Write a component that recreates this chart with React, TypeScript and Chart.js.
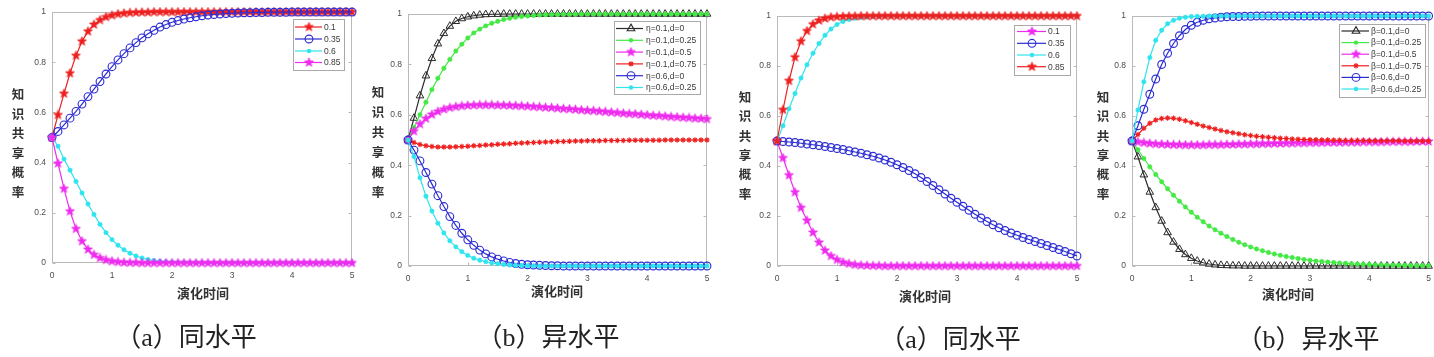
import React, { useEffect, useRef } from "react";
import { Chart, registerables } from "chart.js";

Chart.register(...registerables);

// ---------------- DATA ----------------
const times = [
  0, 0.1, 0.2, 0.3, 0.4, 0.5, 0.6, 0.7, 0.8, 0.9,
  1, 1.1, 1.2, 1.3, 1.4, 1.5, 1.6, 1.7, 1.8, 1.9,
  2, 2.1, 2.2, 2.3, 2.4, 2.5, 2.6, 2.7, 2.8, 2.9,
  3, 3.1, 3.2, 3.3, 3.4, 3.5, 3.6, 3.7, 3.8, 3.9,
  4, 4.1, 4.2, 4.3, 4.4, 4.5, 4.6, 4.7, 4.8, 4.9,
  5,
];

const xTickValues = [0, 1, 2, 3, 4, 5];
const xTickLabels = ["0", "1", "2", "3", "4", "5"];
const yTickValues = [0, 0.2, 0.4, 0.6, 0.8, 1];
const yTickLabels = ["0", "0.2", "0.4", "0.6", "0.8", "1"];

const yAxisTitle = "知识共享概率";
const xAxisTitle = "演化时间";
const captions = ["（a）同水平", "（b）异水平", "（a）同水平", "（b）异水平"];

const legendA1 = ["0.1", "0.35", "0.6", "0.85"];
const legendB1 = ["η=0.1,d=0", "η=0.1,d=0.25", "η=0.1,d=0.5", "η=0.1,d=0.75", "η=0.6,d=0", "η=0.6,d=0.25"];
const legendA2 = ["0.1", "0.35", "0.6", "0.85"];
const legendB2 = ["β=0.1,d=0", "β=0.1,d=0.25", "β=0.1,d=0.5", "β=0.1,d=0.75", "β=0.6,d=0", "β=0.6,d=0.25"];

// Panel 1 (a) same level
const a1_01 = [
  0.5, 0.59, 0.675, 0.756, 0.826, 0.883, 0.923, 0.95, 0.968, 0.98,
  0.987, 0.992, 0.995, 0.997, 0.998, 0.999, 0.999, 1, 1, 1,
  1, 1, 1, 1, 1, 1, 1, 1, 1, 1,
  1, 1, 1, 1, 1, 1, 1, 1, 1, 1,
  1, 1, 1, 1, 1, 1, 1, 1, 1, 1,
  1,
];
const a1_035 = [
  0.5, 0.524, 0.55, 0.577, 0.604, 0.633, 0.663, 0.693, 0.723, 0.753,
  0.782, 0.809, 0.834, 0.857, 0.878, 0.897, 0.913, 0.927, 0.94, 0.95,
  0.959, 0.966, 0.972, 0.977, 0.981, 0.985, 0.988, 0.99, 0.992, 0.994,
  0.995, 0.996, 0.997, 0.997, 0.998, 0.998, 0.999, 0.999, 0.999, 0.999,
  1, 1, 1, 1, 1, 1, 1, 1, 1, 1,
  1,
];
const a1_06 = [
  0.5, 0.465, 0.414, 0.37, 0.325, 0.279, 0.235, 0.193, 0.154, 0.121,
  0.093, 0.071, 0.053, 0.039, 0.028, 0.02, 0.014, 0.01, 0.007, 0.005,
  0.003, 0.002, 0.002, 0.001, 0.001, 0.001, 0, 0, 0, 0,
  0, 0, 0, 0, 0, 0, 0, 0, 0, 0,
  0, 0, 0, 0, 0, 0, 0, 0, 0, 0,
  0,
];
const a1_085 = [
  0.5, 0.397, 0.296, 0.206, 0.136, 0.087, 0.054, 0.033, 0.02, 0.012,
  0.007, 0.004, 0.002, 0.001, 0.001, 0, 0, 0, 0, 0,
  0, 0, 0, 0, 0, 0, 0, 0, 0, 0,
  0, 0, 0, 0, 0, 0, 0, 0, 0, 0,
  0, 0, 0, 0, 0, 0, 0, 0, 0, 0,
  0,
];

// Panel 2 (b) different level, eta
const b1_k = [
  0.5, 0.587, 0.676, 0.755, 0.824, 0.882, 0.923, 0.952, 0.971, 0.982,
  0.989, 0.993, 0.996, 0.998, 0.999, 0.999, 1, 1, 1, 1,
  1, 1, 1, 1, 1, 1, 1, 1, 1, 1,
  1, 1, 1, 1, 1, 1, 1, 1, 1, 1,
  1, 1, 1, 1, 1, 1, 1, 1, 1, 1,
  1,
];
const b1_g = [
  0.5, 0.55, 0.6, 0.65, 0.7, 0.745, 0.785, 0.82, 0.853, 0.88,
  0.905, 0.925, 0.94, 0.953, 0.963, 0.971, 0.978, 0.983, 0.987, 0.99,
  0.992, 0.994, 0.996, 0.997, 0.998, 0.998, 0.999, 0.999, 0.999, 1,
  1, 1, 1, 1, 1, 1, 1, 1, 1, 1,
  1, 1, 1, 1, 1, 1, 1, 1, 1, 1,
  1,
];
const b1_m = [
  0.5, 0.535, 0.563, 0.585, 0.601, 0.613, 0.622, 0.628, 0.632, 0.635,
  0.637, 0.638, 0.639, 0.639, 0.639, 0.638, 0.638, 0.637, 0.636, 0.635,
  0.634, 0.632, 0.631, 0.629, 0.628, 0.626, 0.624, 0.623, 0.621, 0.619,
  0.617, 0.616, 0.614, 0.612, 0.61, 0.608, 0.606, 0.604, 0.603, 0.601,
  0.599, 0.597, 0.596, 0.594, 0.592, 0.591, 0.589, 0.588, 0.586, 0.585,
  0.583,
];
const b1_r = [
  0.5, 0.49, 0.482, 0.477, 0.474, 0.472, 0.472, 0.472, 0.473, 0.474,
  0.475, 0.477, 0.478, 0.48, 0.481, 0.483, 0.484, 0.485, 0.487, 0.488,
  0.489, 0.49, 0.491, 0.492, 0.493, 0.494, 0.494, 0.495, 0.496, 0.496,
  0.497, 0.497, 0.497, 0.498, 0.498, 0.498, 0.498, 0.499, 0.499, 0.499,
  0.499, 0.499, 0.499, 0.5, 0.5, 0.5, 0.5, 0.5, 0.5, 0.5,
  0.5,
];
const b1_b = [
  0.5, 0.46, 0.417, 0.371, 0.325, 0.279, 0.236, 0.196, 0.161, 0.13,
  0.104, 0.082, 0.063, 0.048, 0.036, 0.027, 0.02, 0.014, 0.01, 0.007,
  0.005, 0.004, 0.003, 0.002, 0.001, 0.001, 0, 0, 0, 0,
  0, 0, 0, 0, 0, 0, 0, 0, 0, 0,
  0, 0, 0, 0, 0, 0, 0, 0, 0, 0,
  0,
];
const b1_c = [
  0.5, 0.434, 0.35, 0.277, 0.218, 0.17, 0.131, 0.1, 0.076, 0.057,
  0.042, 0.031, 0.023, 0.017, 0.012, 0.009, 0.006, 0.004, 0.003, 0.002,
  0.001, 0.001, 0, 0, 0, 0, 0, 0, 0, 0,
  0, 0, 0, 0, 0, 0, 0, 0, 0, 0,
  0, 0, 0, 0, 0, 0, 0, 0, 0, 0,
  0,
];

// Panel 3 (a) same level
const a2_01 = [
  0.5, 0.432, 0.363, 0.295, 0.233, 0.182, 0.134, 0.094, 0.062, 0.04,
  0.025, 0.015, 0.009, 0.005, 0.003, 0.002, 0.001, 0.001, 0, 0,
  0, 0, 0, 0, 0, 0, 0, 0, 0, 0,
  0, 0, 0, 0, 0, 0, 0, 0, 0, 0,
  0, 0, 0, 0, 0, 0, 0, 0, 0, 0,
  0,
];
const a2_035 = [
  0.5, 0.498, 0.496, 0.494, 0.491, 0.488, 0.485, 0.482, 0.478, 0.474,
  0.47, 0.466, 0.461, 0.456, 0.451, 0.445, 0.439, 0.432, 0.424, 0.415,
  0.405, 0.394, 0.382, 0.369, 0.354, 0.338, 0.322, 0.305, 0.288, 0.271,
  0.255, 0.239, 0.223, 0.207, 0.192, 0.178, 0.165, 0.153, 0.142, 0.132,
  0.123, 0.114, 0.106, 0.098, 0.09, 0.082, 0.074, 0.066, 0.058, 0.049,
  0.04,
];
const a2_06 = [
  0.5, 0.561, 0.629, 0.69, 0.752, 0.805, 0.851, 0.89, 0.923, 0.948,
  0.966, 0.978, 0.986, 0.991, 0.994, 0.996, 0.998, 0.998, 0.999, 0.999,
  1, 1, 1, 1, 1, 1, 1, 1, 1, 1,
  1, 1, 1, 1, 1, 1, 1, 1, 1, 1,
  1, 1, 1, 1, 1, 1, 1, 1, 1, 1,
  1,
];
const a2_085 = [
  0.5, 0.625, 0.741, 0.835, 0.899, 0.94, 0.967, 0.982, 0.99, 0.995,
  0.997, 0.998, 0.999, 0.999, 1, 1, 1, 1, 1, 1,
  1, 1, 1, 1, 1, 1, 1, 1, 1, 1,
  1, 1, 1, 1, 1, 1, 1, 1, 1, 1,
  1, 1, 1, 1, 1, 1, 1, 1, 1, 1,
  1,
];

// Panel 4 (b) different level, beta
const b2_k = [
  0.5, 0.437, 0.365, 0.296, 0.234, 0.18, 0.134, 0.096, 0.067, 0.046,
  0.031, 0.02, 0.013, 0.008, 0.005, 0.003, 0.002, 0.001, 0.001, 0,
  0, 0, 0, 0, 0, 0, 0, 0, 0, 0,
  0, 0, 0, 0, 0, 0, 0, 0, 0, 0,
  0, 0, 0, 0, 0, 0, 0, 0, 0, 0,
  0,
];
const b2_g = [
  0.5, 0.465, 0.43, 0.397, 0.366, 0.337, 0.309, 0.283, 0.259, 0.236,
  0.215, 0.195, 0.177, 0.16, 0.145, 0.131, 0.118, 0.106, 0.095, 0.085,
  0.076, 0.068, 0.061, 0.054, 0.048, 0.043, 0.038, 0.034, 0.03, 0.026,
  0.023, 0.02, 0.018, 0.016, 0.014, 0.012, 0.011, 0.009, 0.008, 0.007,
  0.006, 0.005, 0.005, 0.004, 0.004, 0.003, 0.003, 0.002, 0.002, 0.002,
  0.002,
];
const b2_m = [
  0.5, 0.496, 0.493, 0.49, 0.488, 0.487, 0.486, 0.485, 0.485, 0.484,
  0.484, 0.484, 0.484, 0.485, 0.485, 0.485, 0.486, 0.486, 0.487, 0.487,
  0.488, 0.488, 0.489, 0.489, 0.49, 0.49, 0.491, 0.491, 0.492, 0.492,
  0.493, 0.493, 0.493, 0.494, 0.494, 0.494, 0.495, 0.495, 0.495, 0.496,
  0.496, 0.496, 0.496, 0.497, 0.497, 0.497, 0.497, 0.497, 0.498, 0.498,
  0.498,
];
const b2_r = [
  0.5, 0.526, 0.551, 0.571, 0.584, 0.59, 0.592, 0.591, 0.587, 0.581,
  0.574, 0.567, 0.56, 0.554, 0.548, 0.542, 0.537, 0.533, 0.529, 0.525,
  0.522, 0.519, 0.517, 0.515, 0.513, 0.511, 0.51, 0.508, 0.507, 0.506,
  0.505, 0.505, 0.504, 0.504, 0.503, 0.503, 0.502, 0.502, 0.502, 0.502,
  0.501, 0.501, 0.501, 0.501, 0.501, 0.501, 0.5, 0.5, 0.5, 0.5,
  0.5,
];
const b2_b = [
  0.5, 0.561, 0.627, 0.687, 0.748, 0.806, 0.851, 0.89, 0.921, 0.946,
  0.963, 0.975, 0.983, 0.989, 0.992, 0.995, 0.997, 0.998, 0.998, 0.999,
  0.999, 1, 1, 1, 1, 1, 1, 1, 1, 1,
  1, 1, 1, 1, 1, 1, 1, 1, 1, 1,
  1, 1, 1, 1, 1, 1, 1, 1, 1, 1,
  1,
];
const b2_c = [
  0.5, 0.624, 0.737, 0.834, 0.903, 0.943, 0.969, 0.983, 0.991, 0.995,
  0.998, 0.999, 0.999, 1, 1, 1, 1, 1, 1, 1,
  1, 1, 1, 1, 1, 1, 1, 1, 1, 1,
  1, 1, 1, 1, 1, 1, 1, 1, 1, 1,
  1, 1, 1, 1, 1, 1, 1, 1, 1, 1,
  1,
];

// ---------------- STYLE ----------------
const RED = "#ee1f1f";
const BLUE = "#2c2cd4";
const CYAN = "#2fe4ee";
const MAGENTA = "#ee2bee";
const GREEN = "#44e944";
const BLACK = "#2b2b2b";

type MarkerKind = "pentagram" | "circle" | "dot" | "triangle" | "asterisk";

interface SeriesSpec {
  label: string;
  values: number[];
  color: string;
  marker: MarkerKind;
}

interface PanelSpec {
  series: SeriesSpec[];
  left: number;
  right: number;
  top: number;
  bottom: number;
  padR: number;
  legend: { box: number[]; rows: number[]; line: number[]; mx: number; tx: number };
  ylabX: number;
  ylabY0: number;
  ylabStep: number;
  xtitle: number[];
  caption: number[];
}

const Y_AXIS_W = 46;
const CANVAS_H = 290;
const LINE_W = 1.2;
const CIRCLE_R = 3.9;
const TRI_R = 4.4;
const DOT_R = 2.2;
const AST_R = 2.7;

const panels: PanelSpec[] = [
  {
    series: [
      { label: legendA1[0], values: a1_01, color: RED, marker: "pentagram" },
      { label: legendA1[1], values: a1_035, color: BLUE, marker: "circle" },
      { label: legendA1[2], values: a1_06, color: CYAN, marker: "dot" },
      { label: legendA1[3], values: a1_085, color: MAGENTA, marker: "pentagram" },
    ],
    left: 52, right: 352, top: 12, bottom: 263, padR: 10,
    legend: { box: [293, 19, 344, 70], rows: [27, 39, 51, 62.5], line: [295, 322], mx: 309, tx: 324 },
    ylabX: 18, ylabY0: 94, ylabStep: 19.6,
    xtitle: [203, 292],
    caption: [186, 338],
  },
  {
    series: [
      { label: legendB1[0], values: b1_k, color: BLACK, marker: "triangle" },
      { label: legendB1[1], values: b1_g, color: GREEN, marker: "dot" },
      { label: legendB1[2], values: b1_m, color: MAGENTA, marker: "pentagram" },
      { label: legendB1[3], values: b1_r, color: RED, marker: "asterisk" },
      { label: legendB1[4], values: b1_b, color: BLUE, marker: "circle" },
      { label: legendB1[5], values: b1_c, color: CYAN, marker: "dot" },
    ],
    left: 408, right: 707, top: 14, bottom: 266, padR: 10,
    legend: { box: [614, 21, 700, 94], rows: [28.5, 40.3, 52.1, 63.9, 75.7, 87.5], line: [616, 643], mx: 631, tx: 646 },
    ylabX: 378, ylabY0: 92, ylabStep: 20,
    xtitle: [557, 290],
    caption: [548, 338],
  },
  {
    series: [
      { label: legendA2[0], values: a2_01, color: MAGENTA, marker: "pentagram" },
      { label: legendA2[1], values: a2_035, color: BLUE, marker: "circle" },
      { label: legendA2[2], values: a2_06, color: CYAN, marker: "dot" },
      { label: legendA2[3], values: a2_085, color: RED, marker: "pentagram" },
    ],
    left: 777, right: 1077, top: 16, bottom: 266, padR: 10,
    legend: { box: [1014, 24.5, 1070, 74], rows: [31.5, 43.3, 55, 66.7], line: [1017, 1046], mx: 1032, tx: 1048 },
    ylabX: 745, ylabY0: 97, ylabStep: 19.3,
    xtitle: [925, 295],
    caption: [950, 340],
  },
  {
    series: [
      { label: legendB2[0], values: b2_k, color: BLACK, marker: "triangle" },
      { label: legendB2[1], values: b2_g, color: GREEN, marker: "dot" },
      { label: legendB2[2], values: b2_m, color: MAGENTA, marker: "pentagram" },
      { label: legendB2[3], values: b2_r, color: RED, marker: "asterisk" },
      { label: legendB2[4], values: b2_b, color: BLUE, marker: "circle" },
      { label: legendB2[5], values: b2_c, color: CYAN, marker: "dot" },
    ],
    left: 1132, right: 1432, top: 16, bottom: 266, padR: 2,
    legend: { box: [1339, 23.5, 1425, 96], rows: [31, 42.6, 54.2, 65.8, 77.4, 89], line: [1341.5, 1369], mx: 1356, tx: 1371 },
    ylabX: 1103, ylabY0: 97, ylabStep: 19.3,
    xtitle: [1288, 293],
    caption: [1308, 340],
  },
];

// ---------------- HELPERS ----------------
function makePentagram(color: string): HTMLCanvasElement {
  const c = document.createElement("canvas");
  c.width = 11;
  c.height = 11;
  const g = c.getContext("2d")!;
  const R = 4.7;
  const r = R * 0.42;
  g.beginPath();
  for (let i = 0; i < 10; i++) {
    const rad = (Math.PI / 5) * i - Math.PI / 2;
    const rr = i % 2 === 0 ? R : r;
    const x = 5.5 + Math.cos(rad) * rr;
    const y = 5.5 + Math.sin(rad) * rr;
    if (i === 0) g.moveTo(x, y);
    else g.lineTo(x, y);
  }
  g.closePath();
  g.fillStyle = color;
  g.fill();
  g.strokeStyle = color;
  g.lineWidth = 0.8;
  g.stroke();
  return c;
}

function pointOptions(s: SeriesSpec, star: HTMLCanvasElement | null) {
  switch (s.marker) {
    case "pentagram":
      return { pointStyle: star, pointRadius: 4, pointBackgroundColor: s.color, pointBorderColor: s.color, pointBorderWidth: 1 };
    case "circle":
      return { pointStyle: "circle", pointRadius: CIRCLE_R, pointBackgroundColor: "rgba(0,0,0,0)", pointBorderColor: s.color, pointBorderWidth: 1.1 };
    case "dot":
      return { pointStyle: "circle", pointRadius: DOT_R, pointBackgroundColor: s.color, pointBorderColor: s.color, pointBorderWidth: 0.5 };
    case "triangle":
      return { pointStyle: "triangle", pointRadius: TRI_R, pointBackgroundColor: "rgba(0,0,0,0)", pointBorderColor: s.color, pointBorderWidth: 1 };
    case "asterisk":
    default:
      return { pointStyle: "star", pointRadius: AST_R, pointBackgroundColor: s.color, pointBorderColor: s.color, pointBorderWidth: 1.1 };
  }
}

function drawMarker(ctx: CanvasRenderingContext2D, s: SeriesSpec, star: HTMLCanvasElement | null, x: number, y: number) {
  ctx.save();
  ctx.strokeStyle = s.color;
  ctx.fillStyle = s.color;
  ctx.lineWidth = 1.1;
  if (s.marker === "pentagram" && star) {
    ctx.drawImage(star, x - star.width / 2, y - star.height / 2);
  } else if (s.marker === "circle") {
    ctx.beginPath();
    ctx.arc(x, y, CIRCLE_R, 0, Math.PI * 2);
    ctx.stroke();
  } else if (s.marker === "dot") {
    ctx.beginPath();
    ctx.arc(x, y, DOT_R, 0, Math.PI * 2);
    ctx.fill();
  } else if (s.marker === "triangle") {
    const r = TRI_R;
    ctx.beginPath();
    let rad = 0;
    ctx.moveTo(x + Math.sin(rad) * r, y - Math.cos(rad) * r);
    rad += (2 * Math.PI) / 3;
    ctx.lineTo(x + Math.sin(rad) * r, y - Math.cos(rad) * r);
    rad += (2 * Math.PI) / 3;
    ctx.lineTo(x + Math.sin(rad) * r, y - Math.cos(rad) * r);
    ctx.closePath();
    ctx.stroke();
  } else {
    const r = AST_R;
    ctx.beginPath();
    for (let k = 0; k < 4; k++) {
      const a = (Math.PI / 4) * k;
      ctx.moveTo(x - Math.cos(a) * r, y - Math.sin(a) * r);
      ctx.lineTo(x + Math.cos(a) * r, y + Math.sin(a) * r);
    }
    ctx.stroke();
  }
  ctx.restore();
}

function buildChart(canvas: HTMLCanvasElement, p: PanelSpec, cx: number): Chart {
  const stars = p.series.map((s) => (s.marker === "pentagram" ? makePentagram(s.color) : null));
  const n = p.series.length;
  const datasets = p.series.map((s, i) => ({
    label: s.label,
    data: s.values.map((v, j) => ({ x: times[j], y: v })),
    borderColor: s.color,
    backgroundColor: s.color,
    borderWidth: LINE_W,
    tension: 0,
    fill: false,
    clip: false as any,
    order: n - i,
    ...pointOptions(s, stars[i]),
  }));

  const framePlugin = {
    id: "matlabFrame",
    beforeDatasetsDraw(chart: any) {
      const { ctx, chartArea: a, scales } = chart;
      ctx.save();
      ctx.strokeStyle = "#bababa";
      ctx.lineWidth = 1;
      const L = Math.round(a.left) + 0.5;
      const R = Math.round(a.right) - 0.5;
      const T = Math.round(a.top) + 0.5;
      const B = Math.round(a.bottom) - 0.5;
      ctx.strokeRect(L, T, R - L, B - T);
      ctx.beginPath();
      for (const v of xTickValues) {
        const x = Math.round(scales.x.getPixelForValue(v)) + 0.5;
        ctx.moveTo(x, B);
        ctx.lineTo(x, B - 3);
        ctx.moveTo(x, T);
        ctx.lineTo(x, T + 3);
      }
      for (const v of yTickValues) {
        const y = Math.round(scales.y.getPixelForValue(v)) + 0.5;
        ctx.moveTo(L, y);
        ctx.lineTo(L + 3, y);
        ctx.moveTo(R, y);
        ctx.lineTo(R - 3, y);
      }
      ctx.stroke();
      ctx.restore();
    },
  };

  const legendPlugin = {
    id: "matlabLegend",
    afterDraw(chart: any) {
      const ctx: CanvasRenderingContext2D = chart.ctx;
      const lg = p.legend;
      const bx1 = lg.box[0] - cx;
      const bx2 = lg.box[2] - cx;
      ctx.save();
      ctx.fillStyle = "#ffffff";
      ctx.fillRect(bx1, lg.box[1], bx2 - bx1, lg.box[3] - lg.box[1]);
      ctx.strokeStyle = "#a9a9a9";
      ctx.lineWidth = 1;
      ctx.strokeRect(Math.round(bx1) + 0.5, Math.round(lg.box[1]) + 0.5, Math.round(bx2 - bx1), Math.round(lg.box[3] - lg.box[1]));
      p.series.forEach((s, i) => {
        const y = lg.rows[i];
        ctx.strokeStyle = s.color;
        ctx.lineWidth = LINE_W;
        ctx.beginPath();
        ctx.moveTo(lg.line[0] - cx, y);
        ctx.lineTo(lg.line[1] - cx, y);
        ctx.stroke();
        drawMarker(ctx, s, stars[i], lg.mx - cx, y);
        ctx.fillStyle = "#3a3a3a";
        ctx.font = '8.5px "Liberation Sans", Arial, sans-serif';
        ctx.textBaseline = "middle";
        ctx.textAlign = "left";
        ctx.fillText(s.label, lg.tx - cx, y + 0.5);
      });
      ctx.restore();
    },
  };

  return new Chart(canvas, {
    type: "line",
    data: { datasets: datasets as any },
    options: {
      animation: false,
      responsive: false,
      events: [],
      devicePixelRatio: 1,
      layout: { padding: { top: p.top, right: p.padR, left: 0, bottom: 0 } },
      plugins: { legend: { display: false }, tooltip: { enabled: false }, title: { display: false } },
      scales: {
        x: {
          type: "linear",
          min: 0,
          max: 5,
          grid: { display: false, drawTicks: false },
          border: { display: false },
          afterBuildTicks: (s: any) => {
            s.ticks = xTickValues.map((v) => ({ value: v }));
          },
          afterFit: (s: any) => {
            s.height = CANVAS_H - p.bottom;
            s.paddingLeft = 0;
            s.paddingRight = 0;
          },
          ticks: {
            color: "#4d4d4d",
            font: { size: 8.5, family: '"Liberation Sans", Arial, sans-serif' },
            padding: 8,
            maxRotation: 0,
            autoSkip: false,
            callback: (_v: any, i: number) => xTickLabels[i],
          },
        },
        y: {
          type: "linear",
          min: 0,
          max: 1,
          grid: { display: false, drawTicks: false },
          border: { display: false },
          afterBuildTicks: (s: any) => {
            s.ticks = yTickValues.map((v) => ({ value: v }));
          },
          afterFit: (s: any) => {
            s.width = Y_AXIS_W;
            s.paddingTop = 0;
            s.paddingBottom = 0;
          },
          ticks: {
            color: "#4d4d4d",
            font: { size: 8.5, family: '"Liberation Sans", Arial, sans-serif' },
            padding: 6,
            autoSkip: false,
            callback: (_v: any, i: number) => yTickLabels[i],
          },
        },
      },
    } as any,
    plugins: [framePlugin, legendPlugin],
  });
}

function Panel({ p }: { p: PanelSpec }) {
  const ref = useRef<HTMLCanvasElement | null>(null);
  const cx = p.left - Y_AXIS_W;
  const w = p.right + p.padR - cx;
  useEffect(() => {
    if (!ref.current) return;
    const chart = buildChart(ref.current, p, cx);
    return () => chart.destroy();
  }, []);
  return (
    <>
      <canvas
        ref={ref}
        width={w}
        height={CANVAS_H}
        style={{ position: "absolute", left: cx, top: 0, width: w, height: CANVAS_H }}
      />
      {Array.from(yAxisTitle).map((ch, i) => (
        <div
          key={i}
          style={{
            position: "absolute",
            left: p.ylabX,
            top: p.ylabY0 + i * p.ylabStep,
            transform: "translate(-50%, -50%)",
            font: 'bold 12.5px "Noto Sans CJK SC", sans-serif',
            color: "#333",
            lineHeight: 1,
            whiteSpace: "nowrap",
          }}
        >
          {ch}
        </div>
      ))}
      <div
        style={{
          position: "absolute",
          left: p.xtitle[0],
          top: p.xtitle[1],
          transform: "translate(-50%, -50%)",
          font: 'bold 13px "Noto Sans CJK SC", sans-serif',
          color: "#333",
          lineHeight: 1,
          whiteSpace: "nowrap",
        }}
      >
        {xAxisTitle}
      </div>
    </>
  );
}

export default function App() {
  return (
    <div
      style={{
        position: "absolute",
        left: 0,
        top: 0,
        width: 1434,
        height: 357,
        background: "#ffffff",
        overflow: "hidden",
      }}
    >
      {panels.map((p, i) => (
        <Panel key={i} p={p} />
      ))}
      {panels.map((p, i) => (
        <div
          key={"c" + i}
          style={{
            position: "absolute",
            left: p.caption[0],
            top: p.caption[1],
            transform: "translate(-50%, -50%)",
            font: '26px "Liberation Serif", "Noto Sans CJK SC", serif',
            color: "#222",
            lineHeight: 1,
            whiteSpace: "nowrap",
          }}
        >
          {captions[i]}
        </div>
      ))}
    </div>
  );
}
